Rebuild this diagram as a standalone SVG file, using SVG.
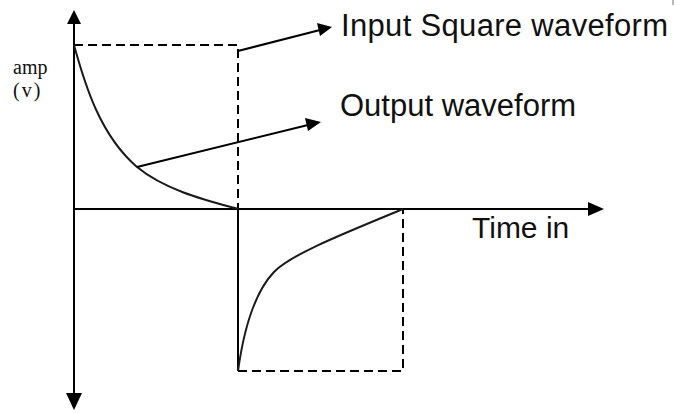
<svg xmlns="http://www.w3.org/2000/svg" width="676" height="413" viewBox="0 0 676 413">
<defs>
<style>
.axis{stroke:#000;stroke-width:2;fill:none}
.dash{stroke:#000;stroke-width:2;fill:none;stroke-dasharray:9 5}
.curve{stroke:#1a1a1a;stroke-width:2;fill:none}
.head{fill:#000}
.lbl{font-family:"Liberation Sans",Arial,sans-serif;font-size:31px;fill:#111}
.amp{font-family:"Liberation Serif","Times New Roman",serif;font-size:20px;fill:#111}
</style>
</defs>
<rect width="676" height="413" fill="#fff"/>
<g id="axes">
<line class="axis" x1="74" y1="20" x2="74" y2="396"/>
<polygon class="head" points="74,10 67,24 81,24"/>
<polygon class="head" points="74,410 66,393 82,393"/>
<line class="axis" x1="74" y1="209" x2="590" y2="209"/>
<polygon class="head" points="604,209 588,202 588,216"/>
</g>
<g id="input-square">
<polyline class="dash" points="74,45 238,45 238,209"/>
<line class="axis" x1="238" y1="209" x2="238" y2="371"/>
<polyline class="dash" points="238,371 403,371 403,209"/>
</g>
<g id="output-curve">
<path class="curve" d="M74,45 C85,85 100,135 137,167 C165,190 205,200 238,209"/>
<path class="curve" d="M238,371 C243,335 252,295 274,272 C290,255 340,235 403,209"/>
</g>
<g id="connectors">
<line class="axis" x1="238" y1="51" x2="320" y2="30"/>
<polygon class="head" points="332,27 317,23 320,36"/>
<line class="axis" x1="137" y1="167" x2="308" y2="125"/>
<polygon class="head" points="321,122 305,118 308,131"/>
</g>
<g id="labels">
<text class="lbl" x="341" y="36" textLength="327">Input Square waveform</text>
<text class="lbl" x="340" y="116">Output waveform</text>
<text class="lbl" x="472" y="238" style="font-size:30px">Time in</text>
<text class="amp" x="13" y="74">amp</text>
<text class="amp" x="13" y="97" letter-spacing="2">(v)</text>
</g>
<line x1="673" y1="0" x2="673" y2="5" stroke="#777" stroke-width="1"/>
</svg>
